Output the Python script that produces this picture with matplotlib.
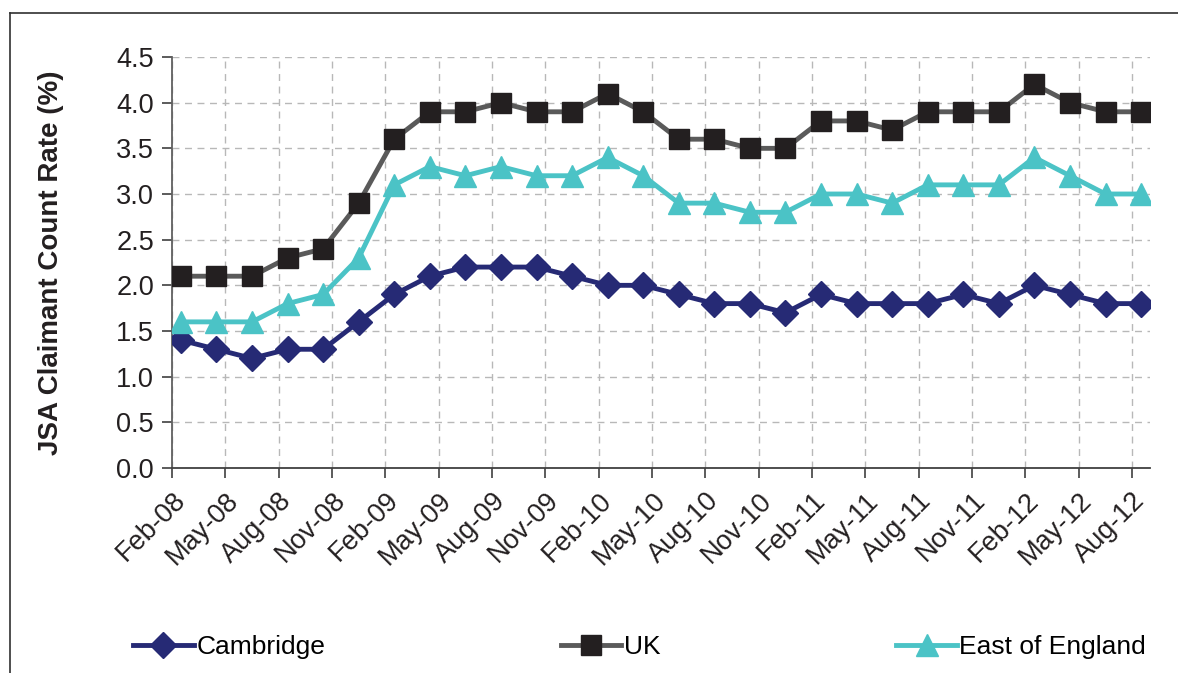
import matplotlib.pyplot as plt
from matplotlib.lines import Line2D

plt.rcParams['font.family'] = ['Liberation Sans', 'DejaVu Sans']

# bimonthly readings, Feb-08 .. Aug-12
months = list(range(0, 55, 2))
cambridge = [1.4, 1.3, 1.2, 1.3, 1.3, 1.6, 1.9, 2.1, 2.2, 2.2, 2.2, 2.1, 2.0, 2.0,
             1.9, 1.8, 1.8, 1.7, 1.9, 1.8, 1.8, 1.8, 1.9, 1.8, 2.0, 1.9, 1.8, 1.8]
uk = [2.1, 2.1, 2.1, 2.3, 2.4, 2.9, 3.6, 3.9, 3.9, 4.0, 3.9, 3.9, 4.1, 3.9,
      3.6, 3.6, 3.5, 3.5, 3.8, 3.8, 3.7, 3.9, 3.9, 3.9, 4.2, 4.0, 3.9, 3.9]
east = [1.6, 1.6, 1.6, 1.8, 1.9, 2.3, 3.1, 3.3, 3.2, 3.3, 3.2, 3.2, 3.4, 3.2,
        2.9, 2.9, 2.8, 2.8, 3.0, 3.0, 2.9, 3.1, 3.1, 3.1, 3.4, 3.2, 3.0, 3.0]

tick_labels = ['Feb-08', 'May-08', 'Aug-08', 'Nov-08', 'Feb-09', 'May-09', 'Aug-09',
               'Nov-09', 'Feb-10', 'May-10', 'Aug-10', 'Nov-10', 'Feb-11', 'May-11',
               'Aug-11', 'Nov-11', 'Feb-12', 'May-12', 'Aug-12']


def main():
    fig = plt.figure(figsize=(11.78, 6.73), dpi=100)
    ax = fig.add_axes([0.146, 0.3046, 0.8302, 0.6107])

    # points sit in the middle of their month
    x = [m + 0.5 for m in months]

    ax.plot(x, cambridge, color='#262a75', lw=3.5, marker='D', ms=13,
            mfc='#262a75', mec='#262a75', label='Cambridge', zorder=3)
    ax.plot(x, uk, color='#5a5a5a', lw=3.5, marker='s', ms=14.5,
            mfc='#231f20', mec='#231f20', label='UK', zorder=3)
    ax.plot(x, east, color='#4bc3c6', lw=3.5, marker='^', ms=15.5,
            mfc='#4bc3c6', mec='#4bc3c6', label='East of England', zorder=3)

    ax.set_xlim(0, 55)
    ax.set_ylim(0, 4.5)
    ax.set_xticks(range(0, 55, 3))
    ax.set_xticklabels(tick_labels, rotation=45, ha='right', rotation_mode='anchor',
                       fontsize=19.5, color='#231f20')
    ax.set_yticks([i * 0.5 for i in range(10)])
    ax.set_yticklabels(['%.1f' % (i * 0.5) for i in range(10)], fontsize=19.5,
                       color='#231f20')
    ax.tick_params(axis='x', length=7, width=1.2, color='#404040', pad=7)
    ax.tick_params(axis='y', length=7, width=1.2, color='#404040', pad=6)

    ax.grid(True, color='#b8b8b8', ls=(0, (5, 4)), lw=1.0)
    ax.set_axisbelow(True)
    for s in ['top', 'right']:
        ax.spines[s].set_visible(False)
    ax.spines['left'].set_color('#606060')
    ax.spines['bottom'].set_color('#404040')
    ax.spines['left'].set_linewidth(1.3)
    ax.spines['bottom'].set_linewidth(1.3)

    ax.set_ylabel('JSA Claimant Count Rate (%)', fontsize=20, fontweight='bold',
                  color='#231f20')
    ax.yaxis.set_label_coords(-0.11, 0.5)

    fig.legend(loc='center', bbox_to_anchor=(0.104, 0.0, 0.878, 0.077),
               ncol=3, mode='expand', frameon=False, fontsize=19, handlelength=2.3,
               handletextpad=0.1, borderaxespad=0)

    # frame lines of the chart area (top and left only)
    fig.add_artist(Line2D([10 / 1178, 1], [1 - 13 / 673, 1 - 13 / 673],
                          transform=fig.transFigure, color='#303030', lw=1.2))
    fig.add_artist(Line2D([10 / 1178, 10 / 1178], [0, 1 - 13 / 673],
                          transform=fig.transFigure, color='#303030', lw=1.2))

    fig.savefig('out.png', dpi=100)


if __name__ == '__main__':
    main()
